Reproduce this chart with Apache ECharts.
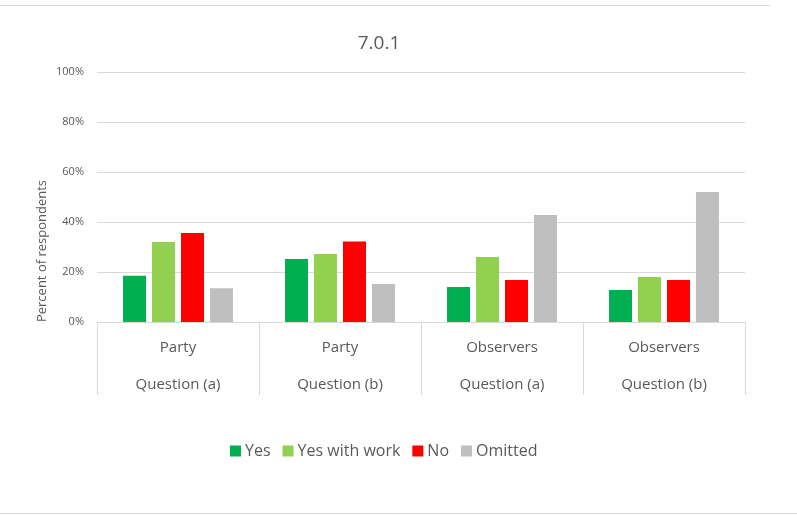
<!DOCTYPE html>
<html>
<head>
<meta charset="utf-8">
<script src="https://cdn.jsdelivr.net/npm/echarts@6/dist/echarts.min.js"></script>
<style>
html,body{margin:0;padding:0;background:#fff;}
#chart{width:797px;height:515px;}
</style>
</head>
<body>
<div id="chart"></div>
<script>
var categories = ['Party\nQuestion (a)', 'Party\nQuestion (b)', 'Observers\nQuestion (a)', 'Observers\nQuestion (b)'];
var seriesNames = ['Yes', 'Yes with work', 'No', 'Omitted'];
var yesValues = [18.5, 25.2, 14, 12.8];
var yesWithWorkValues = [32, 27.2, 26, 18];
var noValues = [35.6, 32.2, 16.8, 16.8];
var omittedValues = [13.5, 15.2, 42.8, 52];
var yTicks = [0, 20, 40, 60, 80, 100];
var colors = ['#00B050', '#92D050', '#FF0000', '#BFBFBF'];

var seriesData = [yesValues, yesWithWorkValues, noValues, omittedValues];
var font = '"Open Sans", "Liberation Sans", sans-serif';
var chart = echarts.init(document.getElementById('chart'));
chart.setOption({
  animation: false,
  textStyle: {fontFamily: font},
  title: {
    text: '7.0.1', left: 374, top: 29, textAlign: 'center',
    textStyle: {fontSize: 19, fontWeight: 'normal', color: '#595959', fontFamily: font}
  },
  grid: {left: 97, right: 52, top: 72, bottom: 193, containLabel: false},
  legend: {
    data: seriesNames, left: 225, top: 438,
    itemWidth: 11, itemHeight: 11, itemGap: 12,
    icon: 'rect',
    textStyle: {fontSize: 16, color: '#595959', fontFamily: font, padding: [0, 0, 0, -1]}
  },
  xAxis: {
    type: 'category', data: categories,
    axisLine: {lineStyle: {color: '#d9d9d9', width: 1}},
    axisTick: {show: true, length: 73, interval: 0, lineStyle: {color: '#d9d9d9', width: 1}},
    axisLabel: {interval: 0, margin: 7, lineHeight: 37, fontSize: 15, color: '#595959', fontFamily: font}
  },
  yAxis: {
    type: 'value', min: yTicks[0], max: yTicks[yTicks.length - 1], interval: 20,
    axisLine: {show: false}, axisTick: {show: false},
    axisLabel: {formatter: '{value}%', fontSize: 11, color: '#595959', margin: 13, fontFamily: font},
    splitLine: {lineStyle: {color: '#d9d9d9', width: 1}}
  },
  graphic: [
    {type: 'text', x: 42, y: 251, rotation: Math.PI / 2,
      style: {text: 'Percent of respondents', fontSize: 13, fill: '#595959', fontFamily: font, align: 'center', verticalAlign: 'middle'}},
    {type: 'line', shape: {x1: 0, y1: 5.5, x2: 770, y2: 5.5}, style: {stroke: '#d9d9d9', lineWidth: 1}},
    {type: 'line', shape: {x1: 0, y1: 513.5, x2: 797, y2: 513.5}, style: {stroke: '#d9d9d9', lineWidth: 1}}
  ],
  series: seriesNames.map(function (name, i) {
    return {
      name: name, type: 'bar', data: seriesData[i],
      barWidth: 23, barGap: '26%',
      itemStyle: {color: colors[i]}
    };
  })
});
</script>
</body>
</html>
